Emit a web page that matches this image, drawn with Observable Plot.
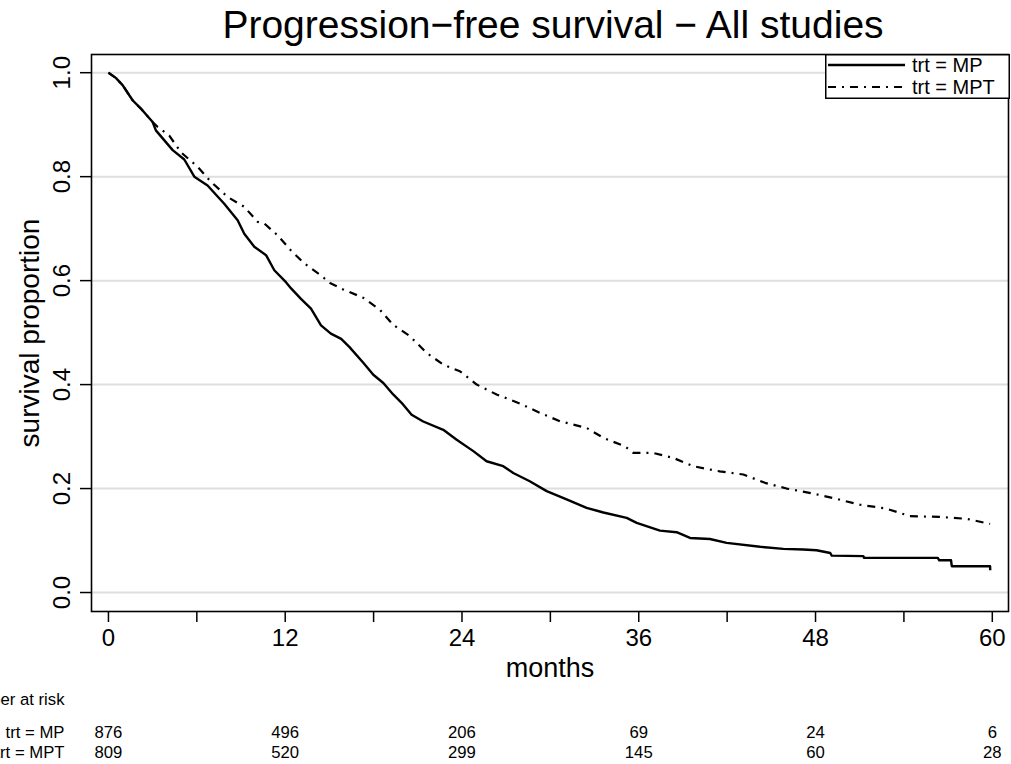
<!DOCTYPE html>
<html>
<head>
<meta charset="utf-8">
<script src="https://cdn.jsdelivr.net/npm/d3@7"></script>
<script src="https://cdn.jsdelivr.net/npm/@observablehq/plot@0.6"></script>
<style>
  html, body { margin: 0; padding: 0; background: #fff; overflow: hidden; }
  #wrap { position: relative; width: 1011px; height: 764px; }
  #legend { position: absolute; left: 825px; top: 54px; }
</style>
</head>
<body>
<div id="wrap"></div>
<script>
// ---- data ----
const mpTime = [0, 0.5, 0.96, 1.64, 2.2, 3.0, 3.22, 4.36, 5.15, 5.83, 6.73, 7.86, 8.77, 9.22, 9.9, 10.7, 11.26, 12.05, 12.4, 13.07, 13.75, 14.43, 15.1, 15.8, 16.35, 17.3, 17.98, 18.66, 19.33, 19.9, 20.58, 21.37, 22.73, 23.64, 24.77, 25.67, 26.8, 27.48, 28.6, 29.75, 31.1, 32.46, 33.6, 35.18, 35.86, 37.44, 38.57, 39.48, 40.83, 41.97, 44.23, 45.81, 47.17, 48.07, 49.0, 49.1, 51.24, 51.3, 56.3, 56.4, 57.2, 57.25, 59.85, 59.86];
const mpSurv = [1.0, 0.99, 0.976, 0.947, 0.931, 0.905, 0.889, 0.851, 0.833, 0.80, 0.783, 0.748, 0.716, 0.69, 0.665, 0.649, 0.62, 0.597, 0.585, 0.565, 0.546, 0.514, 0.498, 0.488, 0.4725, 0.442, 0.419, 0.403, 0.381, 0.365, 0.342, 0.329, 0.313, 0.294, 0.272, 0.2525, 0.243, 0.230, 0.214, 0.195, 0.179, 0.163, 0.154, 0.1436, 0.134, 0.119, 0.116, 0.105, 0.103, 0.0955, 0.088, 0.084, 0.0827, 0.0814, 0.076, 0.071, 0.070, 0.0667, 0.0667, 0.062, 0.062, 0.0506, 0.0506, 0.043];

const mptTime = [0, 0.5, 0.96, 1.64, 2.2, 3.0, 3.33, 4.13, 4.92, 6.05, 6.96, 8.09, 9.22, 10.13, 10.58, 11.49, 12.39, 13.3, 14.43, 15.04, 15.94, 17.3, 18.43, 19.33, 20.47, 21.6, 22.73, 23.86, 25.0, 26.35, 27.94, 29.3, 30.65, 31.56, 32.46, 33.6, 35.07, 35.63, 36.98, 38.34, 39.7, 41.5, 43.1, 44.57, 46.04, 47.85, 49.44, 51.0, 52.8, 54.4, 56.4, 58.26, 59.85];
const mptSurv = [1.0, 0.99, 0.976, 0.947, 0.931, 0.905, 0.896, 0.879, 0.847, 0.819, 0.79, 0.761, 0.742, 0.713, 0.71, 0.687, 0.658, 0.633, 0.61, 0.5955, 0.583, 0.567, 0.544, 0.515, 0.493, 0.461, 0.4385, 0.4256, 0.40, 0.381, 0.3635, 0.3455, 0.3295, 0.323, 0.3167, 0.2975, 0.281, 0.2686, 0.2686, 0.259, 0.243, 0.233, 0.227, 0.211, 0.2, 0.1904, 0.18, 0.169, 0.1615, 0.147, 0.1455, 0.1417, 0.132];

const groups = ["trt = MP", "trt = MPT"];
const riskTimes = [0, 12, 24, 36, 48, 60];
const mpRisk = [876, 496, 206, 69, 24, 6];
const mptRisk = [809, 520, 299, 145, 60, 28];

const xTicks = [0, 6, 12, 18, 24, 30, 36, 42, 48, 54, 60];
const xLabelTicks = [0, 12, 24, 36, 48, 60];
const yTicks = [0, 0.2, 0.4, 0.6, 0.8, 1.0];

const titleText = "Progression\u2212free survival \u2212 All studies";
const xLabel = "months";
const yLabel = "survival proportion";
const riskHeader = "Number at risk";

// ---- build tables ----
const mpData = mpTime.map((t, i) => ({t, s: mpSurv[i]}));
const mptData = mptTime.map((t, i) => ({t, s: mptSurv[i]}));
const riskMP = riskTimes.map((t, i) => ({t, n: mpRisk[i]}));
const riskMPT = riskTimes.map((t, i) => ({t, n: mptRisk[i]}));

const font = "'Liberation Sans', Arial, Helvetica, sans-serif";
const dashPattern = "8,6,2,6";
const mid = {lineAnchor: "middle"};
const tableFont = 16.7;

const chart = Plot.plot({
  width: 1011,
  height: 764,
  marginLeft: 91,
  marginRight: 3,
  marginTop: 54,
  marginBottom: 153,
  style: {fontFamily: font, background: "#fff", color: "#000"},
  x: {domain: [-1.15, 61.1]},
  y: {domain: [-0.0365, 1.035]},
  marks: [
    Plot.ruleY(yTicks, {stroke: "#dedede", strokeWidth: 2}),
    Plot.line(mpData, {x: "t", y: "s", stroke: "#000", strokeWidth: 2.4, strokeLinecap: "butt"}),
    Plot.line(mptData, {x: "t", y: "s", stroke: "#000", strokeWidth: 2.2, strokeDasharray: dashPattern, strokeLinecap: "butt"}),
    Plot.frame({stroke: "#000", strokeWidth: 1.6}),
    Plot.axisX({ticks: xTicks, tickSize: 11, tickPadding: 6, fontSize: 24, strokeWidth: 1.5,
      tickFormat: d => xLabelTicks.includes(d) ? String(d) : "", label: null}),
    Plot.axisY({ticks: yTicks, tickSize: 11, strokeWidth: 1.5, tickFormat: () => "", label: null}),
    Plot.text(yTicks, {y: d => d, text: d => d.toFixed(1), frameAnchor: "left", textAnchor: "middle", ...mid, dx: -29, rotate: -90, fontSize: 24}),
    Plot.text([yLabel], {text: d => d, frameAnchor: "left", textAnchor: "middle", ...mid, dx: -61, rotate: -90, fontSize: 28}),
    Plot.text([xLabel], {text: d => d, frameAnchor: "bottom", textAnchor: "middle", ...mid, dy: 57, fontSize: 27}),
    Plot.text([titleText], {text: d => d, frameAnchor: "top", textAnchor: "middle", ...mid, dy: -29, dx: 3, fontSize: 39}),
    Plot.text([riskHeader], {text: d => d, frameAnchor: "bottom-left", ...mid, dx: -27, dy: 88, textAnchor: "end", fontSize: tableFont}),
    Plot.text([groups[0]], {text: d => d, frameAnchor: "bottom-left", ...mid, dx: -27, dy: 121, textAnchor: "end", fontSize: tableFont}),
    Plot.text([groups[1]], {text: d => d, frameAnchor: "bottom-left", ...mid, dx: -27, dy: 141, textAnchor: "end", fontSize: tableFont}),
    Plot.text(riskMP, {x: "t", text: d => String(d.n), frameAnchor: "bottom", textAnchor: "middle", ...mid, dy: 121, fontSize: tableFont}),
    Plot.text(riskMPT, {x: "t", text: d => String(d.n), frameAnchor: "bottom", textAnchor: "middle", ...mid, dy: 141, fontSize: tableFont})
  ]
});

const wrap = document.getElementById("wrap");
wrap.appendChild(chart);

// ---- legend ----
const lw = 185, lh = 45;
const leg = d3.select(wrap).append("svg")
  .attr("id", "legend")
  .attr("width", lw).attr("height", lh)
  .style("font-family", font);
leg.append("rect").attr("x", 0.75).attr("y", 0.75).attr("width", lw - 1.5).attr("height", lh - 1.5)
  .attr("fill", "#fff").attr("stroke", "#000").attr("stroke-width", 1.5);
groups.forEach((g, i) => {
  const yy = 11 + i * 22;
  leg.append("line").attr("x1", 3).attr("x2", 80).attr("y1", yy).attr("y2", yy)
    .attr("stroke", "#000").attr("stroke-width", i === 0 ? 2.4 : 2.2)
    .attr("stroke-dasharray", i === 0 ? null : dashPattern);
  leg.append("text").attr("x", 87).attr("y", yy).attr("dy", "0.35em")
    .attr("font-size", 20).text(g);
});
</script>
</body>
</html>
